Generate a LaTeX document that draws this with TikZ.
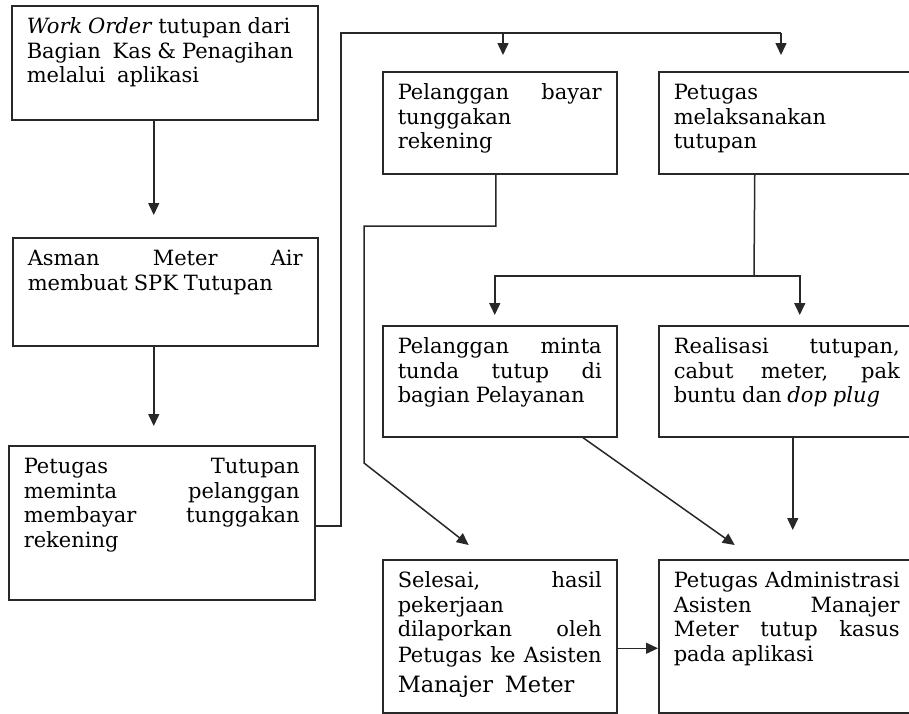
\documentclass[tikz,border=0pt]{standalone}
\usepackage{fontspec}
\setmainfont{DejaVu Serif}
\usetikzlibrary{arrows.meta,calc}

\definecolor{boxline}{RGB}{40,40,40}
\tikzset{
  box/.style={draw=boxline, line width=1.5pt, anchor=north west, inner xsep=15pt, inner ysep=0pt},
  conn/.style={draw=boxline, line width=1.5pt},
  arr/.style={conn, -{Triangle[length=12pt,width=11pt]}},
}
\newcommand{\boxtext}[2]{\parbox[t][#1pt][t]{\hsize}{\fontsize{21}{24.5}\selectfont\spaceskip=0.28em\relax\rule{0pt}{28pt}#2}}
\newcommand{\jline}[1]{\hbox to\hsize{\spaceskip=0.28em plus 1fil\relax #1}}

\begin{document}
\begin{tikzpicture}[x=1pt,y=1pt,yscale=-1]
\useasboundingbox (0,0) rectangle (909,713);

%Shape: Rectangle [work order]
\node[box, text width=276pt] (wo) at (11,5) {\boxtext{114}{\textit{Work Order} tutupan dari\\ Bagian~ Kas \& Penagihan\\ melalui~ aplikasi}};
%Shape: Rectangle [asman]
\node[box, text width=275pt] (asman) at (12,237) {\boxtext{108}{\jline{Asman Meter Air}\\ membuat SPK Tutupan}};
%Shape: Rectangle [petugas meminta]
\node[box, text width=276pt] (minta) at (8,445) {\boxtext{154}{\jline{Petugas Tutupan}\\ \jline{meminta pelanggan}\\ \jline{membayar tunggakan}\\ rekening}};
%Shape: Rectangle [pelanggan bayar]
\node[box, text width=204pt] (bayar) at (382,71) {\boxtext{102}{\jline{Pelanggan bayar}\\ tunggakan\\ rekening}};
%Shape: Rectangle [petugas melaksanakan]
\node[box, text width=226pt] (laksana) at (658,71) {\boxtext{102}{Petugas\\ melaksanakan\\ tutupan}};
%Shape: Rectangle [tunda tutup]
\node[box, text width=204pt] (tunda) at (382,325) {\boxtext{111}{\jline{Pelanggan minta}\\ \jline{tunda tutup di}\\ bagian Pelayanan}};
%Shape: Rectangle [realisasi]
\node[box, text width=226pt] (realisasi) at (658,325) {\boxtext{111}{\jline{Realisasi tutupan,}\\ \jline{cabut meter, pak}\\ buntu dan \textit{dop plug}}};
%Shape: Rectangle [selesai]
\node[box, text width=204pt] (selesai) at (382,559) {\boxtext{153}{\jline{Selesai, hasil}\\ pekerjaan\\ \jline{dilaporkan oleh}\\[1pt] \jline{Petugas ke Asisten}\\[6pt] {\fontsize{22.5}{24.5}\selectfont Manajer~ Meter}}};
%Shape: Rectangle [administrasi]
\node[box, text width=226pt] (admin) at (658,559) {\boxtext{153}{\jline{Petugas Administrasi}\\ \jline{Asisten Manajer}\\ \jline{Meter tutup kasus}\\ pada aplikasi}};

%Connector: left column
\draw[arr] ($(wo.south)+(-11,0)$) -- ($(asman.north)+(-11.5,-22)$);
\draw[arr] ($(asman.south)+(-11.5,0)$) -- ($(minta.north)+(-8,-19)$);

%Connector: over the top
\coordinate (ka) at (341,33);
\coordinate (kb) at (503,33);
\coordinate (kc) at (781,33);
\draw[conn] ($(minta.east)+(0,3)$) -| (ka) -- (kc);
\draw[arr] (kb) -- ($(kb |- bayar.north)+(0,-16)$);
\draw[arr] (kc) -- ($(kc |- laksana.north)+(0,-16)$);

%Connector: bayar to selesai
\coordinate (kd) at (364,226);
\coordinate (ke) at (364,463);
\draw[arr] ($(bayar.south)+(-4,0)$) |- (kd) -- (ke) -- ($(selesai.north)+(-31,-14)$);

%Connector: split below laksana
\coordinate (kf) at (754,276);
\draw[conn] ($(laksana.south)+(-32,0)$) -- (kf);
\draw[arr] (kf) -| ($(tunda.north)+(-5,-10)$);
\draw[arr] (kf) -| ($(realisasi.north)+(13,-10)$);

%Connector: into administrasi
\draw[arr] ($(tunda.south)+(83,0)$) -- ($(admin.north)+(-52,-14)$);
\draw[arr] ($(realisasi.south)+(6,0)$) -- ($(admin.north)+(6,-29)$);
\draw[arr] ($(selesai.east)+(0,12)$) -- ($(admin.west)+(0,12)$);

\end{tikzpicture}
\end{document}
